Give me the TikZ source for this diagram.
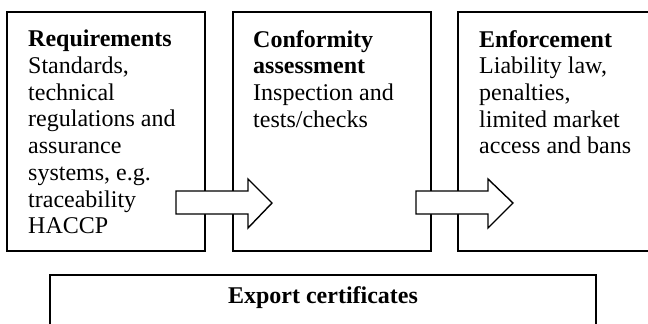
\documentclass[tikz,border=0pt]{standalone}
\usepackage{fontspec}
\setmainfont{Liberation Serif}
\begin{document}
\begin{tikzpicture}[x=1pt,y=-1pt,
  box/.style={draw=black,line width=1.6pt,fill=white},
  txt/.style={anchor=north west,align=left,inner sep=0pt,font=\fontsize{24}{26.7}\selectfont},
  blockarrow/.style={draw=black,line width=1.4pt,fill=white,line join=miter}]
\useasboundingbox (0,0) rectangle (648,324);
\begin{scope}
\clip (0,0) rectangle (648,324);
\draw[box] (7,12) rectangle (205,251);
\draw[box] (233,12) rectangle (431,251);
\draw[box] (458,12) rectangle (660,251);
\draw[box] (50,275) rectangle (596,340);
\end{scope}
\node[txt] (req) at (28,30) {\textbf{Requirements}\\Standards,\\technical\\regulations and\\assurance\\systems, e.g.\\traceability\\HACCP};
\node[txt] (conf) at (253,30) {\textbf{Conformity}\\\textbf{assessment}\\Inspection and\\tests/checks};
\node[txt] (enf) at (479,30) {\textbf{Enforcement}\\Liability law,\\penalties,\\limited market\\access and bans};
\node[inner sep=0pt,anchor=base,font=\fontsize{24}{26.7}\selectfont\bfseries] (exp) at (323,303) {Export certificates};
\draw[blockarrow] (176,191) -- (248,191) -- (248,179) -- (272,203) -- (248,228) -- (248,214) -- (176,214) -- cycle;
\draw[blockarrow] (416,191) -- (488,191) -- (488,179) -- (513,203) -- (488,228) -- (488,214) -- (416,214) -- cycle;
\end{tikzpicture}
\end{document}
